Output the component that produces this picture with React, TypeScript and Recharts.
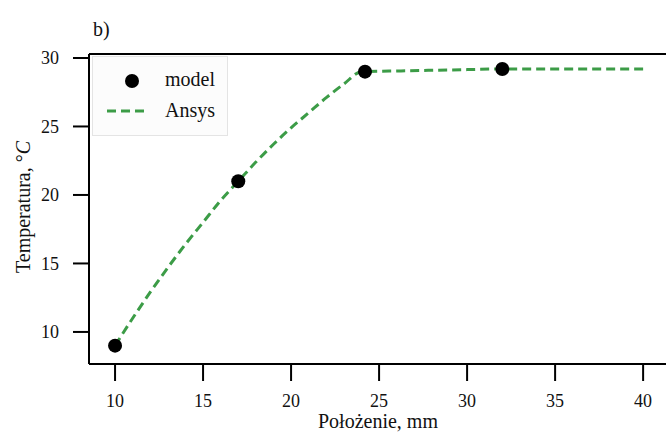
import React from "react";
import {
  ComposedChart,
  Line,
  Scatter,
  XAxis,
  YAxis,
  ReferenceLine,
} from "recharts";

// model points
const modelX = [10, 17, 24.2, 32];
const modelY = [9.0, 21.0, 29.0, 29.2];

// Ansys curve
const ansysX = [10, 11, 12, 13, 14, 15, 16, 17, 18, 19, 20, 21, 22, 23, 24, 26, 28, 30, 32, 34, 36, 38, 40];
const ansysY = [9.0, 11.0, 12.9, 14.7, 16.4, 18.0, 19.6, 21.0, 22.4, 23.7, 24.9, 26.0, 27.1, 28.1, 29.0, 29.05, 29.1, 29.15, 29.2, 29.2, 29.2, 29.2, 29.2];

const xTicks = [10, 15, 20, 25, 30, 35, 40];
const yTicks = [10, 15, 20, 25, 30];

const FONT = "'Liberation Serif', 'Times New Roman', serif";
const GREEN = "#3c9c47";
const X_DOMAIN = [8.52, 41.3];
const Y_DOMAIN = [7.66, 30.29];

const modelData = modelX.map((x, i) => ({ x, y: modelY[i] }));
const ansysData = ansysX.map((x, i) => ({ x, y: ansysY[i] }));

const LegendBox = () => (
  <svg
    width={136}
    height={80}
    style={{ position: "absolute", left: 92, top: 56 }}
  >
    <rect x={0.5} y={0.5} width={135} height={79} fill="#fcfcfc" stroke="#e4e4e4" />
    <circle cx={40} cy={25} r={7} fill="#000" />
    <line x1={15} y1={55} x2={56} y2={55} stroke={GREEN} strokeWidth={3} strokeDasharray="9 5" />
    <text x={73} y={30} fontFamily={FONT} fontSize={20} fill="#111">model</text>
    <text x={73} y={61} fontFamily={FONT} fontSize={20} fill="#111">Ansys</text>
  </svg>
);

const YLabel = () => (
  <text
    x={30}
    y={207}
    transform="rotate(-90 30 207)"
    textAnchor="middle"
    fontFamily={FONT}
    fontSize={20}
    fill="#111"
  >
    Temperatura, °<tspan fontStyle="italic">C</tspan>
  </text>
);

const XLabel = () => (
  <text x={378} y={428} textAnchor="middle" fontFamily={FONT} fontSize={20} fill="#111">
    Położenie, mm
  </text>
);

export default function App() {
  return (
    <div style={{ position: "absolute", left: 0, top: 0, width: 667, height: 435, background: "#fff" }}>
      <ComposedChart width={667} height={435} margin={{ top: 54, right: 1, bottom: 0, left: 0 }}>
        <XAxis
          type="number"
          dataKey="x"
          domain={X_DOMAIN}
          ticks={xTicks}
          allowDataOverflow
          height={71}
          tickSize={17}
          tickMargin={13}
          axisLine={{ stroke: "#000", strokeWidth: 2 }}
          tickLine={{ stroke: "#000", strokeWidth: 2 }}
          tick={{ fill: "#111", fontSize: 18, fontFamily: FONT }}
          label={{ content: () => <XLabel /> }}
        />
        <YAxis
          type="number"
          dataKey="y"
          domain={Y_DOMAIN}
          ticks={yTicks}
          allowDataOverflow
          width={89}
          tickSize={16}
          tickMargin={14}
          axisLine={{ stroke: "#000", strokeWidth: 2 }}
          tickLine={{ stroke: "#000", strokeWidth: 2 }}
          tick={{ fill: "#111", fontSize: 18, fontFamily: FONT }}
          label={{ content: () => <YLabel /> }}
        />
        <ReferenceLine y={Y_DOMAIN[1]} stroke="#000" strokeWidth={2} />
        <Line
          data={ansysData}
          dataKey="y"
          type="monotone"
          stroke={GREEN}
          strokeWidth={3}
          strokeDasharray="9 5"
          dot={false}
          activeDot={false}
          isAnimationActive={false}
        />
        <Scatter
          data={modelData}
          dataKey="y"
          fill="#000"
          shape={(p: any) => <circle cx={p.cx} cy={p.cy} r={7} fill="#000" />}
          isAnimationActive={false}
        />
      </ComposedChart>
      <LegendBox />
      <div style={{ position: "absolute", left: 93, top: 18, fontFamily: FONT, fontSize: 20, color: "#111" }}>b)</div>
    </div>
  );
}
